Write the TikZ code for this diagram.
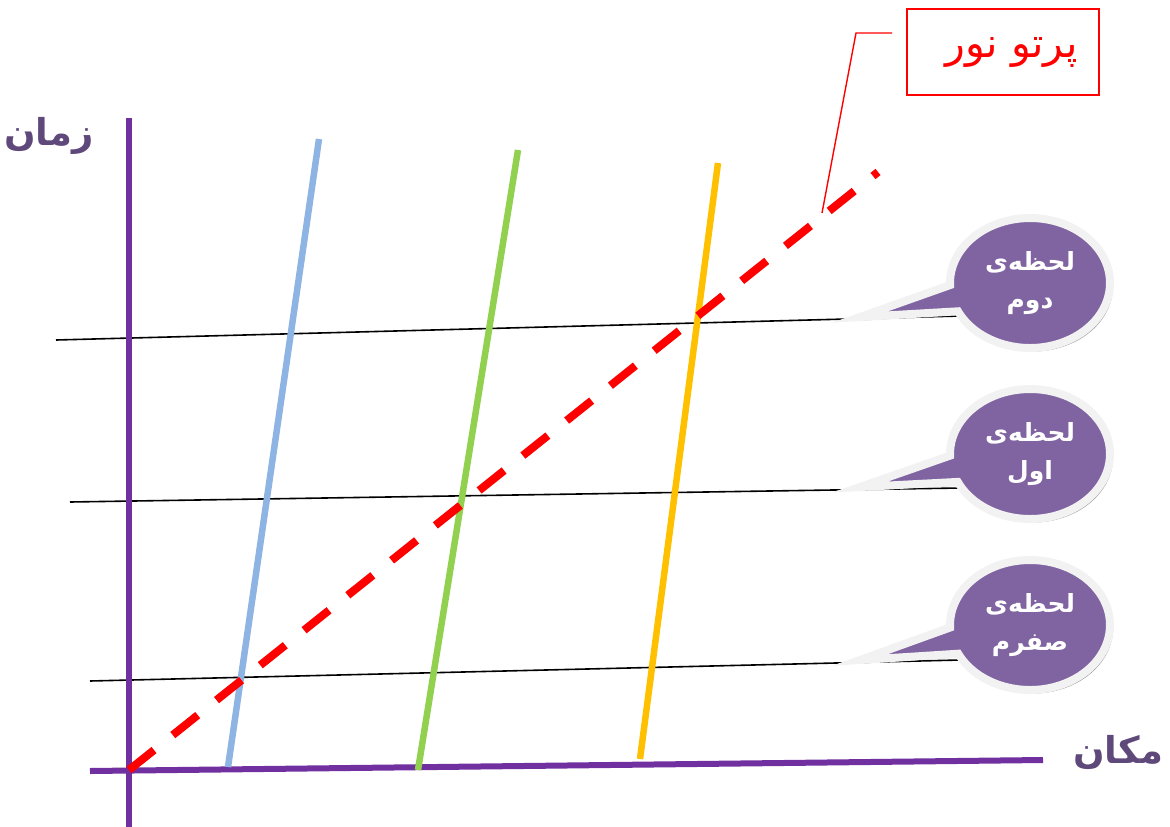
\documentclass[tikz,border=0pt]{standalone}
\usepackage{fontspec}
\usepackage{xcolor}
\usepackage{tikz}
\usetikzlibrary{positioning, shapes.callouts, shadows}
\TeXXeTstate=1
\newfontfamily\arabicfont[Script=Arabic]{DejaVu Sans}

\definecolor{axispurple}{HTML}{7030A0}
\definecolor{labelpurple}{HTML}{5F497A}
\definecolor{bubblepurple}{HTML}{8064A2}
\definecolor{bubblering}{HTML}{F2F2F2}
\definecolor{lineblue}{HTML}{8DB4E2}
\definecolor{linegreen}{HTML}{92D050}
\definecolor{lineorange}{HTML}{FFC000}

\begin{document}
\begin{tikzpicture}[x=1pt, y=-1pt,
        axis/.style={draw=axispurple, line width=6pt},
        worldline/.style={line width=6.5pt},
        moment/.style={draw=black, line width=1.6pt},
        bubble/.style={ellipse callout, fill=bubblepurple, draw=bubblering, line width=8pt,
            minimum width=160pt, minimum height=130pt, callout pointer arc=24,
            drop shadow={shadow xshift=3pt, shadow yshift=-3.5pt, fill=gray!75, opacity=1},
            text=white, align=center, inner sep=0pt,
            font=\arabicfont\bfseries\fontsize{25}{38}\selectfont},
        axislabel/.style={text=labelpurple, font=\arabicfont\bfseries\fontsize{37}{40}\selectfont}]

        \useasboundingbox (0,0) rectangle (1170,827);

        \coordinate (vtop) at (129,118);
        \coordinate (vbot) at (129,827);
        \coordinate (xstart) at (90,771);
        \coordinate (xend) at (1043,760);

        \coordinate (t2l) at (56,340);
        \coordinate (t2r) at (960,316);
        \coordinate (t1l) at (70,502);
        \coordinate (t1r) at (960,488);
        \coordinate (t0l) at (90,681);
        \coordinate (t0r) at (960,660);

        \coordinate (bluebot) at (228,767);
        \coordinate (bluetop) at (319,139);
        \coordinate (greenbot) at (418,770);
        \coordinate (greentop) at (518,150);
        \coordinate (orangebot) at (640,759);
        \coordinate (orangetop) at (718,163);

        \coordinate (origin) at (129,770);
        \coordinate (raytop) at (878,172);

        \coordinate (lead1) at (892,33);
        \coordinate (lead2) at (856,33);
        \coordinate (lead3) at (822,213);

        \draw[moment] (t2l) -- (t2r);
        \draw[moment] (t1l) -- (t1r);
        \draw[moment] (t0l) -- (t0r);

        \draw[axis] (vbot) -- (vtop);
        \draw[axis] (xstart) -- (xend);

        \draw[worldline, lineblue] (bluebot) -- (bluetop);
        \draw[worldline, linegreen] (greenbot) -- (greentop);
        \draw[worldline, lineorange] (orangebot) -- (orangetop);

        \draw[red, line width=8pt, dash pattern=on 32pt off 24pt] (origin) -- (raytop);

        \node[bubble, callout absolute pointer={(860,317)}] (m2) at (1030,283)
            {\beginR لحظه‌ی\endR\\\beginR دوم\endR};
        \node[bubble, below=33pt of m2, callout absolute pointer={(860,487)}] (m1)
            {\beginR لحظه‌ی\endR\\\beginR اول\endR};
        \node[bubble, below=33pt of m1, callout absolute pointer={(860,660)}] (m0)
            {\beginR لحظه‌ی\endR\\\beginR صفرم\endR};

        \node[axislabel] (tlabel) at (49,136) {\beginR زمان\endR};
        \node[axislabel] (xlabel) at (1118,752) {\beginR مکان\endR};

        \node[draw=red, line width=1.5pt, minimum width=192pt, minimum height=86pt,
            text=red, font=\arabicfont\fontsize{41}{44}\selectfont] (ray) at (1003,52)
            {\hspace{18pt}\beginR پرتو نور\endR};

        \draw[red, line width=1.4pt] (lead1) -- (lead2) -- (lead3);

\end{tikzpicture}
\end{document}
